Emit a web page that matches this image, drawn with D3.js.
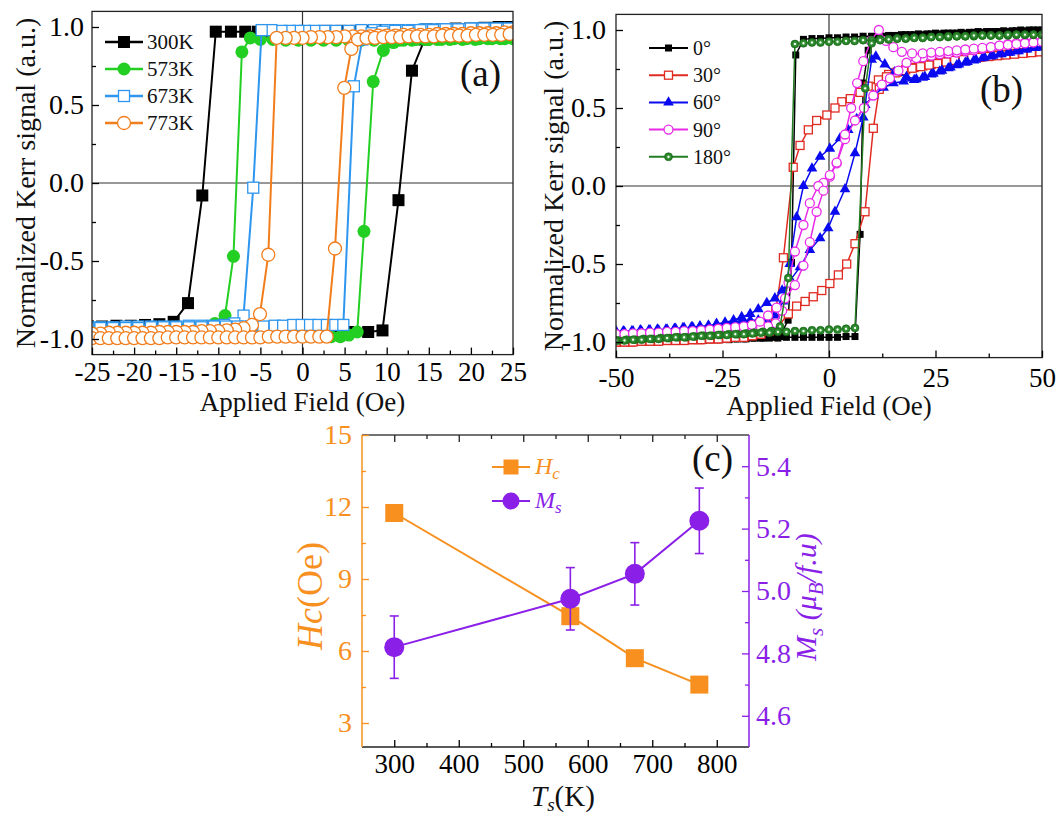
<!DOCTYPE html>
<html><head><meta charset="utf-8">
<script src="https://cdn.jsdelivr.net/npm/d3@7"></script>
<style>
body{margin:0;background:#fff}
svg{display:block}
text{font-family:"Liberation Serif","Times New Roman",serif}
</style>
</head><body>
<svg id="chart" width="1059" height="817"></svg>
<script>
// ================= DATA =================
// ---- panel (a): Kerr loops vs annealing temperature ----
const fieldTicksA = [-25,-20,-15,-10,-5,0,5,10,15,20,25];
const fieldMinorA = [-22.5,-17.5,-12.5,-7.5,-2.5,2.5,7.5,12.5,17.5,22.5];
const kerrTicks = [-1,-0.5,0,0.5,1];
const kerrMinor = [-0.75,-0.25,0.25,0.75];
const legendA = ["300K","573K","673K","773K"];

const k300Down = [[25,1.0],[23.3,1.0],[21.6,0.995],[19.9,0.99],[18.2,0.99],[16.5,0.985],[14.8,0.985],[13.1,0.98],[11.4,0.98],[9.7,0.98],[8.0,0.975],[6.3,0.975],[4.6,0.975],[2.9,0.975],[1.2,0.97],[-0.5,0.97],[-2.2,0.97],[-3.9,0.97],[-5.3,0.97],[-6.8,0.97],[-8.5,0.97],[-10.3,0.97],[-11.9,-0.08],[-13.6,-0.77],[-15.3,-0.89],[-17.0,-0.905],[-18.7,-0.91],[-20.4,-0.915],[-22.1,-0.915],[-23.8,-0.92],[-25.5,-0.92]];
const k300Up = [[-25.5,-0.92],[-23.8,-0.925],[-22.1,-0.93],[-20.4,-0.93],[-18.7,-0.935],[-17.0,-0.935],[-15.3,-0.94],[-13.6,-0.94],[-11.9,-0.94],[-10.2,-0.945],[-8.5,-0.945],[-6.8,-0.945],[-5.1,-0.95],[-3.4,-0.95],[-1.7,-0.95],[0,-0.95],[1.7,-0.955],[3.4,-0.955],[5.4,-0.955],[7.8,-0.955],[9.5,-0.945],[11.4,-0.11],[13.0,0.72],[14.5,0.92],[16.2,0.97],[17.9,0.98],[19.6,0.985],[21.3,0.99],[23.0,0.995],[24.7,1.0]];

const k573Down = [[25,0.925],[23.5,0.925],[22,0.925],[20.5,0.92],[19,0.92],[17.5,0.92],[16,0.92],[14.5,0.92],[13,0.915],[11.5,0.915],[10,0.915],[8.5,0.915],[7,0.915],[5.5,0.915],[4,0.915],[2.5,0.915],[1,0.915],[-0.5,0.915],[-2,0.915],[-3.5,0.92],[-5,0.92],[-6.2,0.93],[-7.2,0.84],[-8.2,-0.47],[-9.2,-0.85],[-10.4,-0.9],[-11.6,-0.92],[-13,-0.93],[-14.5,-0.935],[-16,-0.94],[-17.5,-0.94],[-19,-0.945],[-20.5,-0.945],[-22,-0.95],[-23.5,-0.95],[-25,-0.95]];
const k573Up = [[-25,-0.97],[-23.5,-0.97],[-22,-0.97],[-20.5,-0.97],[-19,-0.97],[-17.5,-0.97],[-16,-0.97],[-14.5,-0.97],[-13,-0.97],[-11.5,-0.97],[-10,-0.97],[-8.5,-0.97],[-7,-0.975],[-5.5,-0.975],[-4,-0.975],[-2.5,-0.975],[-1,-0.98],[0.5,-0.98],[2,-0.98],[3.4,-0.985],[4.5,-0.985],[5.5,-0.975],[6.5,-0.955],[7.3,-0.31],[8.4,0.65],[9.6,0.85],[10.8,0.9],[12,0.915],[13.5,0.92],[15,0.92],[16.5,0.92],[18,0.925],[19.5,0.925],[21,0.925],[22.5,0.925],[24,0.925],[25.5,0.925]];

const k673Down = [[25,0.99],[23.5,0.99],[22,0.99],[20.5,0.99],[19,0.985],[17.5,0.985],[16,0.985],[14.5,0.985],[13,0.98],[11.5,0.98],[10,0.98],[8.5,0.98],[7,0.98],[5.5,0.975],[4,0.975],[2.6,0.975],[1.4,0.975],[0.3,0.975],[-0.5,0.975],[-1.5,0.975],[-2.5,0.975],[-3.7,0.98],[-4.85,0.98],[-5.85,-0.03],[-7.0,-0.85],[-8.1,-0.9],[-9.3,-0.91],[-10.6,-0.915],[-12,-0.915],[-13.5,-0.915],[-15,-0.92],[-16.5,-0.92],[-18,-0.92],[-19.5,-0.92],[-21,-0.92],[-22.5,-0.925],[-24,-0.925],[-25.5,-0.925]];
const k673Up = [[-25.5,-0.93],[-24,-0.93],[-22.5,-0.93],[-21,-0.93],[-19.5,-0.93],[-18,-0.925],[-16.5,-0.925],[-15,-0.925],[-13.5,-0.925],[-12,-0.925],[-10.5,-0.92],[-9.1,-0.92],[-7.7,-0.92],[-6.1,-0.92],[-4.65,-0.92],[-3.3,-0.915],[-2.3,-0.915],[-1.1,-0.91],[-0.1,-0.91],[0.9,-0.91],[1.9,-0.91],[2.9,-0.91],[3.9,-0.91],[4.85,-0.91],[6.1,0.62],[7.1,0.92],[8.2,0.96],[9.5,0.97],[11,0.975],[12.5,0.975],[14,0.98],[15.5,0.98],[17,0.985],[18.5,0.985],[20,0.99],[21.5,0.99],[23,0.99],[24.5,0.99]];

const k773Down = [[25,0.965],[24,0.965],[23,0.96],[22,0.96],[21,0.96],[20,0.96],[19,0.955],[18,0.955],[17,0.955],[16,0.955],[15,0.95],[14,0.95],[13,0.95],[12,0.95],[11,0.945],[10,0.945],[9,0.945],[8,0.94],[7,0.94],[6,0.94],[5,0.94],[4,0.935],[3,0.935],[2,0.935],[1,0.935],[0,0.93],[-1,0.93],[-2,0.93],[-3.07,0.93],[-4.06,-0.46],[-5.05,-0.84],[-6,-0.91],[-7,-0.93],[-8,-0.94],[-9,-0.945],[-10,-0.95],[-11,-0.95],[-12,-0.95],[-13,-0.955],[-14,-0.955],[-15,-0.955],[-16,-0.955],[-17,-0.955],[-18,-0.96],[-19,-0.96],[-20,-0.96],[-21,-0.96],[-22,-0.96],[-23,-0.96],[-24,-0.965],[-25,-0.965]];
const k773Up = [[-25,-0.995],[-24,-0.995],[-23,-0.995],[-22,-0.995],[-21,-0.995],[-20,-0.995],[-19,-0.995],[-18,-0.995],[-17,-0.995],[-16,-0.99],[-15,-0.99],[-14,-0.99],[-13,-0.99],[-12,-0.99],[-11,-0.99],[-10,-0.99],[-9,-0.99],[-8,-0.99],[-7,-0.99],[-6,-0.99],[-5,-0.99],[-4,-0.985],[-3,-0.985],[-2,-0.985],[-1,-0.985],[0,-0.985],[1,-0.985],[2,-0.985],[2.87,-0.985],[3.86,-0.42],[4.96,0.61],[5.8,0.86],[6.6,0.92],[7.6,0.93],[8.6,0.93],[9.6,0.935],[10.6,0.935],[11.6,0.935],[12.6,0.94],[13.6,0.94],[14.6,0.94],[15.6,0.94],[16.6,0.945],[17.6,0.945],[18.6,0.945],[19.6,0.945],[20.6,0.95],[21.6,0.95],[22.6,0.95],[23.6,0.95],[24.6,0.955]];

// ---- panel (b): Kerr loops vs in-plane angle ----
const fieldTicksB = [-50,-25,0,25,50];
const fieldMinorB = [-37.5,-12.5,12.5,37.5];
const legendB = ["0°","30°","60°","90°","180°"];

const b0Down = [[50,1.0],[48,1.0],[46,0.995],[44,0.995],[42,0.99],[40,0.99],[38,0.99],[36,0.985],[34,0.985],[32,0.98],[30,0.98],[28,0.98],[26,0.975],[24,0.975],[22,0.97],[20,0.97],[18,0.97],[16,0.965],[14,0.965],[12,0.96],[10,0.96],[8,0.96],[6,0.955],[4,0.955],[2,0.95],[0,0.95],[-2,0.945],[-4,0.945],[-6,0.94],[-7.8,0.84],[-8.8,-0.49],[-9.6,-0.86],[-11.5,-0.965],[-13.5,-0.97],[-15.5,-0.975],[-17.5,-0.975],[-19.5,-0.98],[-21.5,-0.98],[-23.5,-0.985],[-25.5,-0.985],[-27.5,-0.985],[-29.5,-0.99],[-31.5,-0.99],[-33.5,-0.99],[-35.5,-0.995],[-37.5,-0.995],[-39.5,-0.995],[-41.5,-1.0],[-43.5,-1.0],[-45.5,-1.0],[-47.5,-1.0],[-49.5,-1.0]];
const b0Up = [[-50,-1.0],[-48,-1.0],[-46,-1.0],[-44,-1.0],[-42,-0.995],[-40,-0.995],[-38,-0.995],[-36,-0.99],[-34,-0.99],[-32,-0.99],[-30,-0.985],[-28,-0.985],[-26,-0.985],[-24,-0.98],[-22,-0.98],[-20,-0.98],[-18,-0.975],[-16,-0.975],[-14,-0.975],[-12,-0.975],[-10,-0.97],[-8,-0.97],[-6,-0.97],[-4,-0.97],[-2,-0.97],[0,-0.97],[2,-0.97],[4,-0.965],[6.1,-0.965],[7.3,-0.31],[8.05,0.66],[9.2,0.87],[11,0.95],[13,0.96],[15,0.965],[17,0.97],[19,0.97],[21,0.975],[23,0.975],[25,0.98],[27,0.98],[29,0.98],[31,0.985],[33,0.985],[35,0.99],[37,0.99],[39,0.99],[41,0.995],[43,0.995],[45,1.0],[47,1.0],[49,1.0]];

const b30Down = [[50,0.865],[48,0.86],[46,0.855],[44,0.85],[42,0.845],[40,0.84],[38,0.835],[36,0.83],[34,0.82],[32,0.815],[30,0.81],[28,0.8],[26,0.79],[24,0.78],[22,0.77],[20,0.76],[18,0.745],[16,0.73],[14,0.715],[11.6,0.68],[9.2,0.64],[7.3,0.6],[5,0.56],[3,0.54],[1.4,0.5],[-0.5,0.455],[-2.9,0.42],[-4.85,0.36],[-6.8,0.26],[-8.4,0.12],[-10.7,-0.46],[-12.5,-0.8],[-14.5,-0.92],[-16.5,-0.95],[-18.5,-0.96],[-20.5,-0.97],[-22.5,-0.97],[-24.5,-0.975],[-26.5,-0.98],[-28.5,-0.98],[-30.5,-0.985],[-32.5,-0.985],[-34.5,-0.99],[-36.5,-0.99],[-38.5,-0.99],[-40.5,-0.995],[-42.5,-0.995],[-44.5,-0.995],[-46.5,-1.0],[-48.5,-1.0],[-50,-1.0]];
const b30Up = [[-50,-1.0],[-48,-1.0],[-46,-1.0],[-44,-0.995],[-42,-0.995],[-40,-0.995],[-38,-0.99],[-36,-0.99],[-34,-0.99],[-32,-0.985],[-30,-0.985],[-28,-0.98],[-26,-0.98],[-24,-0.975],[-22,-0.97],[-20,-0.97],[-18,-0.96],[-16,-0.95],[-14,-0.93],[-12,-0.9],[-9.55,-0.82],[-7.6,-0.77],[-5.6,-0.74],[-3.7,-0.71],[-1.7,-0.67],[0.2,-0.625],[2.2,-0.57],[4.15,-0.5],[6.1,-0.37],[8.45,-0.165],[10.4,0.37],[11.8,0.62],[13.5,0.7],[15.5,0.725],[17.5,0.74],[19.5,0.755],[21.5,0.765],[23.5,0.775],[25.5,0.785],[27.5,0.795],[29.5,0.805],[31.5,0.81],[33.5,0.82],[35.5,0.825],[37.5,0.83],[39.5,0.835],[41.5,0.84],[43.5,0.845],[45.5,0.85],[47.5,0.855],[49.5,0.86]];

const b60Down = [[50,0.89],[48,0.885],[46,0.875],[44,0.865],[42,0.855],[40,0.845],[38,0.83],[36,0.82],[34,0.805],[32,0.79],[30,0.775],[28,0.755],[26,0.735],[24,0.715],[22,0.695],[20,0.68],[17.5,0.67],[15.1,0.66],[12.8,0.63],[10.4,0.58],[8.5,0.52],[6.5,0.43],[4.5,0.36],[2.6,0.306],[0.2,0.24],[-2.1,0.188],[-4,0.113],[-6,0.0],[-7.6,-0.2],[-9.2,-0.5],[-10.8,-0.74],[-12.7,-0.83],[-14.6,-0.86],[-16.6,-0.86],[-18.5,-0.86],[-20.5,-0.865],[-22.4,-0.87],[-24.4,-0.88],[-26.4,-0.885],[-28.3,-0.895],[-30.3,-0.9],[-32.3,-0.905],[-34.3,-0.91],[-36.3,-0.915],[-38.3,-0.92],[-40.3,-0.92],[-42.3,-0.925],[-44.3,-0.925],[-46.3,-0.93],[-48.3,-0.93],[-50,-0.93]];
const b60Up = [[-50,-0.935],[-48,-0.935],[-46,-0.93],[-44,-0.93],[-42,-0.925],[-40,-0.925],[-38,-0.92],[-36,-0.915],[-34,-0.91],[-32,-0.905],[-30.3,-0.9],[-28.3,-0.895],[-26.4,-0.885],[-24.4,-0.875],[-22.4,-0.86],[-20.5,-0.84],[-18.5,-0.82],[-16.6,-0.79],[-14.6,-0.75],[-12.7,-0.72],[-11,-0.67],[-9,-0.6],[-6.8,-0.52],[-4.5,-0.41],[-2.1,-0.335],[-0.2,-0.27],[1.4,-0.165],[3.75,-0.02],[6.1,0.21],[8.05,0.44],[10,0.81],[11,0.83],[13.1,0.78],[15.4,0.73],[18.2,0.7],[20.5,0.685],[22.5,0.7],[24.5,0.72],[26.5,0.74],[28.5,0.76],[30.5,0.78],[32.5,0.795],[34.5,0.81],[36.5,0.825],[38.5,0.835],[40.5,0.845],[42.5,0.855],[44.5,0.865],[46.5,0.875],[48.5,0.885],[50,0.89]];

const b90Down = [[50,0.93],[48,0.925],[46,0.92],[44,0.915],[42,0.91],[40,0.9],[38,0.89],[36,0.88],[34,0.87],[32,0.865],[30,0.855],[28,0.85],[26,0.845],[24,0.835],[22,0.825],[20.5,0.82],[18.2,0.79],[16.3,0.74],[14.3,0.69],[12.4,0.65],[10.4,0.58],[8.2,0.5],[6.1,0.42],[3.75,0.3],[1.8,0.145],[0.2,0.06],[-1.3,0.02],[-2.5,0.0],[-4.5,-0.11],[-6,-0.25],[-8,-0.42],[-9.5,-0.62],[-11,-0.8],[-12.5,-0.88],[-14.3,-0.9],[-16.2,-0.905],[-18,-0.91],[-20,-0.915],[-22,-0.92],[-24,-0.925],[-26,-0.93],[-28,-0.93],[-30,-0.935],[-32,-0.935],[-34,-0.94],[-36,-0.94],[-38,-0.94],[-40,-0.945],[-42,-0.945],[-44,-0.945],[-46,-0.95],[-48,-0.95],[-50,-0.95]];
const b90Up = [[-50,-0.95],[-48,-0.95],[-46,-0.945],[-44,-0.945],[-42,-0.94],[-40,-0.94],[-38,-0.935],[-36,-0.935],[-34,-0.93],[-32,-0.93],[-30,-0.925],[-28,-0.92],[-26,-0.915],[-24,-0.91],[-22,-0.905],[-20,-0.9],[-18.1,-0.89],[-16.2,-0.87],[-14.3,-0.83],[-12.3,-0.78],[-10.3,-0.72],[-8,-0.635],[-6,-0.51],[-4.5,-0.36],[-2.9,-0.165],[-1.3,-0.03],[0.2,0.07],[1.8,0.15],[3.75,0.33],[5.2,0.5],[6.6,0.66],[8.05,0.8],[9.8,0.93],[11.7,1.0],[13.4,0.93],[15.1,0.89],[17.1,0.86],[19.5,0.85],[22,0.85],[24,0.855],[26,0.86],[28,0.865],[30,0.87],[32,0.875],[34,0.88],[36,0.885],[38,0.89],[40,0.9],[42,0.905],[44,0.91],[46,0.915],[48,0.92],[50,0.925]];

const b180Down = [[50,0.97],[48,0.97],[46,0.97],[44,0.97],[42,0.965],[40,0.965],[38,0.965],[36,0.965],[34,0.96],[32,0.96],[30,0.96],[28,0.955],[26,0.955],[24,0.955],[22,0.95],[20,0.95],[18,0.945],[16,0.945],[14,0.94],[12,0.94],[10,0.935],[8,0.935],[6,0.93],[4,0.93],[2,0.925],[0,0.925],[-2,0.92],[-4,0.92],[-6,0.915],[-8,0.91],[-9.55,-0.59],[-11.5,-0.9],[-13.5,-0.93],[-15.5,-0.935],[-17.5,-0.94],[-19.5,-0.945],[-21.5,-0.95],[-23.5,-0.95],[-25.5,-0.955],[-27.5,-0.96],[-29.5,-0.96],[-31.5,-0.965],[-33.5,-0.97],[-35.5,-0.97],[-37.5,-0.975],[-39.5,-0.975],[-41.5,-0.98],[-43.5,-0.98],[-45.5,-0.985],[-47.5,-0.985],[-49.5,-0.99]];
const b180Up = [[-50,-0.99],[-48,-0.99],[-46,-0.985],[-44,-0.985],[-42,-0.98],[-40,-0.98],[-38,-0.975],[-36,-0.97],[-34,-0.97],[-32,-0.965],[-30,-0.96],[-28,-0.96],[-26,-0.955],[-24,-0.955],[-22,-0.95],[-20,-0.95],[-18,-0.945],[-16,-0.94],[-14,-0.94],[-12,-0.935],[-10,-0.935],[-8,-0.93],[-6,-0.93],[-4,-0.925],[-2,-0.925],[0,-0.92],[2,-0.92],[4,-0.915],[6.1,-0.91],[8.5,0.626],[10,0.915],[12,0.935],[14,0.94],[16,0.945],[18,0.945],[20,0.95],[22,0.95],[24,0.955],[26,0.955],[28,0.96],[30,0.96],[32,0.96],[34,0.965],[36,0.965],[38,0.965],[40,0.965],[42,0.97],[44,0.97],[46,0.97],[48,0.97],[50,0.97]];

// ---- panel (c): coercivity and saturation magnetisation vs Ts ----
const tempK = [300,573,673,773];
const coercivity = [11.75,7.45,5.7,4.6];
const saturation = [4.82,4.975,5.055,5.225];
const saturationErr = [0.1,0.1,0.1,0.105];
const tempTicks = [300,400,500,600,700,800];
const tempMinor = [350,450,550,650,750];
const hcTicks = [3,6,9,12,15];
const hcMinor = [4.5,7.5,10.5,13.5];
const msTicks = [4.6,4.8,5.0,5.2,5.4];
const msMinor = [4.7,4.9,5.1,5.3];

// ================= DRAWING =================
const FONT = '"Liberation Serif","Times New Roman",serif';
const svg = d3.select('#chart');
const defs = svg.append('defs');
const grad = defs.append('radialGradient').attr('id','ballGrad').attr('cx','50%').attr('cy','50%').attr('r','50%');
grad.append('stop').attr('offset','0%').attr('stop-color','#ffffff');
grad.append('stop').attr('offset','18%').attr('stop-color','#f2faf2');
grad.append('stop').attr('offset','38%').attr('stop-color','#3c9a3c');
grad.append('stop').attr('offset','100%').attr('stop-color','#1b6e1b');

function marker(g, type, color, s) {
  if (type === 'square') g.append('rect').attr('x',-s/2).attr('y',-s/2).attr('width',s).attr('height',s).attr('fill',color);
  else if (type === 'squareOpen') g.append('rect').attr('x',-s/2).attr('y',-s/2).attr('width',s).attr('height',s).attr('fill','#fff').attr('stroke',color).attr('stroke-width',1.3);
  else if (type === 'circle') g.append('circle').attr('r',s/2).attr('fill',color);
  else if (type === 'circleOpen') g.append('circle').attr('r',s/2).attr('fill','#fff').attr('stroke',color).attr('stroke-width',1.3);
  else if (type === 'triangle') g.append('path').attr('d', d3.symbol(d3.symbolTriangle, s*s*0.5)()).attr('fill',color);
  else if (type === 'ball') g.append('circle').attr('r',s/2).attr('fill','url(#ballGrad)').attr('stroke','#1b6e1b').attr('stroke-width',0.6);
}

function styleAxis(sel, color, size) {
  sel.select('.domain').remove();
  sel.attr('font-family', null).attr('font-size', null);
  sel.selectAll('.tick line').attr('stroke', color).attr('stroke-width', 1.3);
  sel.selectAll('.tick text').attr('fill', color).attr('font-size', size).attr('font-family', FONT);
}

function hysteresis(cfg) {
  const g = svg.append('g');
  const x = d3.scaleLinear().domain(cfg.xDomain).range([cfg.left, cfg.right]);
  const y = d3.scaleLinear().domain([-1.1, 1.1]).range([cfg.bottom, cfg.top]);
  const clipId = cfg.id + 'Clip';
  defs.append('clipPath').attr('id', clipId).append('rect')
    .attr('x', cfg.left).attr('y', cfg.top).attr('width', cfg.right - cfg.left).attr('height', cfg.bottom - cfg.top);

  g.append('line').attr('x1', x(0)).attr('x2', x(0)).attr('y1', cfg.top).attr('y2', cfg.bottom).attr('stroke', '#333').attr('stroke-width', 1.2);
  g.append('line').attr('x1', cfg.left).attr('x2', cfg.right).attr('y1', y(0)).attr('y2', y(0)).attr('stroke', '#333').attr('stroke-width', 1.2);

  const plot = g.append('g').attr('clip-path', `url(#${clipId})`);
  const line = d3.line().x(d => x(d[0])).y(d => y(d[1]));
  cfg.series.forEach(s => {
    const pts = s.down.concat(s.up);
    plot.append('path').attr('d', line(pts)).attr('fill', 'none').attr('stroke', s.color).attr('stroke-width', cfg.lw);
    pts.forEach(d => marker(plot.append('g').attr('transform', `translate(${x(d[0])},${y(d[1])})`), s.marker, s.color, s.size));
  });

  g.append('rect').attr('x', cfg.left).attr('y', cfg.top).attr('width', cfg.right - cfg.left).attr('height', cfg.bottom - cfg.top)
    .attr('fill', 'none').attr('stroke', '#222').attr('stroke-width', 1.3);

  const xa = g.append('g').attr('transform', `translate(0,${cfg.bottom})`)
    .call(d3.axisBottom(x).tickValues(cfg.xTicks).tickFormat(d => String(d)).tickSize(-7).tickPadding(cfg.xPad));
  styleAxis(xa, '#000', 27);
  const xm = g.append('g').attr('transform', `translate(0,${cfg.bottom})`)
    .call(d3.axisBottom(x).tickValues(cfg.xMinor).tickFormat(() => '').tickSize(-4));
  styleAxis(xm, '#000', 27);
  const ya = g.append('g').attr('transform', `translate(${cfg.left},0)`)
    .call(d3.axisLeft(y).tickValues(kerrTicks).tickFormat(d => d.toFixed(1)).tickSize(-7).tickPadding(cfg.yPad));
  styleAxis(ya, '#000', 28);
  const ym = g.append('g').attr('transform', `translate(${cfg.left},0)`)
    .call(d3.axisLeft(y).tickValues(kerrMinor).tickFormat(() => '').tickSize(-4));
  styleAxis(ym, '#000', 28);

  g.append('text').attr('x', (cfg.left + cfg.right) / 2).attr('y', cfg.xTitleY).attr('text-anchor', 'middle')
    .attr('font-size', 27).attr('fill', '#111').text('Applied Field (Oe)');
  g.append('text').attr('transform', `translate(${cfg.yTitleX},${(cfg.top + cfg.bottom) / 2}) rotate(-90)`)
    .attr('text-anchor', 'middle').attr('font-size', 28).attr('fill', '#111').text('Normalized Kerr signal (a.u.)');

  // legend
  cfg.series.forEach((s, i) => {
    const ly = cfg.legend.y0 + i * cfg.legend.dy;
    g.append('line').attr('x1', cfg.legend.x0).attr('x2', cfg.legend.x1).attr('y1', ly).attr('y2', ly)
      .attr('stroke', s.color).attr('stroke-width', cfg.lw + 0.5);
    marker(g.append('g').attr('transform', `translate(${(cfg.legend.x0 + cfg.legend.x1) / 2},${ly})`), s.marker, s.color, s.size);
    g.append('text').attr('x', cfg.legend.tx).attr('y', ly + 7).attr('font-size', cfg.legend.fs).attr('fill', '#111').text(cfg.labels[i]);
  });
  g.append('text').attr('x', cfg.tagX).attr('y', cfg.tagY).attr('font-size', 37).attr('fill', '#111').text(cfg.tag);
}

hysteresis({
  id: 'a', left: 92, right: 513, top: 11.4, bottom: 354.6, xDomain: [-25, 25],
  xTicks: fieldTicksA, xMinor: fieldMinorA, xPad: 7, yPad: 8, lw: 2,
  xTitleY: 411, yTitleX: 35,
  series: [
    {down: k300Down, up: k300Up, color: '#000000', marker: 'square', size: 12},
    {down: k573Down, up: k573Up, color: '#22cf22', marker: 'circle', size: 13},
    {down: k673Down, up: k673Up, color: '#2e96ee', marker: 'squareOpen', size: 11},
    {down: k773Down, up: k773Up, color: '#f27d1c', marker: 'circleOpen', size: 13}
  ],
  labels: legendA,
  legend: {x0: 105, x1: 143, y0: 42, dy: 27, tx: 147, fs: 21},
  tag: '(a)', tagX: 460, tagY: 86
});

hysteresis({
  id: 'b', left: 616, right: 1042, top: 14.4, bottom: 357.6, xDomain: [-50, 50],
  xTicks: fieldTicksB, xMinor: fieldMinorB, xPad: 10, yPad: 10, lw: 1.5,
  xTitleY: 415, yTitleX: 563,
  series: [
    {down: b0Down, up: b0Up, color: '#000000', marker: 'square', size: 7},
    {down: b30Down, up: b30Up, color: '#e02a22', marker: 'squareOpen', size: 8},
    {down: b60Down, up: b60Up, color: '#0a0af0', marker: 'triangle', size: 10},
    {down: b90Down, up: b90Up, color: '#e82ae8', marker: 'circleOpen', size: 9},
    {down: b180Down, up: b180Up, color: '#237d23', marker: 'ball', size: 8}
  ],
  labels: legendB,
  legend: {x0: 649, x1: 688, y0: 48, dy: 27.2, tx: 693, fs: 20},
  tag: '(b)', tagX: 980, tagY: 102
});

// ---- panel (c) ----
(function () {
  const ORANGE = '#f7901e', PURPLE = '#8a1fe8';
  const L = 362, R = 749, T = 435, B = 747;
  const g = svg.append('g');
  const x = d3.scaleLinear().domain([250, 850]).range([L, R]);
  const yH = d3.scaleLinear().domain([2, 15]).range([B, T]);
  const yM = d3.scaleLinear().domain([4.5, 5.5]).range([B, T]);

  // frame
  g.append('line').attr('x1', L).attr('x2', R).attr('y1', T).attr('y2', T).attr('stroke', '#444').attr('stroke-width', 1.3);
  g.append('line').attr('x1', L).attr('x2', R).attr('y1', B).attr('y2', B).attr('stroke', '#222').attr('stroke-width', 1.5);
  g.append('line').attr('x1', L).attr('x2', L).attr('y1', T).attr('y2', B).attr('stroke', ORANGE).attr('stroke-width', 1.5);
  g.append('line').attr('x1', R).attr('x2', R).attr('y1', T).attr('y2', B).attr('stroke', PURPLE).attr('stroke-width', 1.5);

  // axes
  styleAxis(g.append('g').attr('transform', `translate(0,${B})`)
    .call(d3.axisBottom(x).tickValues(tempTicks).tickFormat(d => String(d)).tickSize(-7).tickPadding(7)), '#000', 27);
  styleAxis(g.append('g').attr('transform', `translate(0,${B})`)
    .call(d3.axisBottom(x).tickValues(tempMinor).tickFormat(() => '').tickSize(-4)), '#000', 27);
  styleAxis(g.append('g').attr('transform', `translate(0,${T})`)
    .call(d3.axisTop(x).tickValues(tempTicks).tickFormat(() => '').tickSize(-7)), '#222', 28);
  styleAxis(g.append('g').attr('transform', `translate(0,${T})`)
    .call(d3.axisTop(x).tickValues(tempMinor).tickFormat(() => '').tickSize(-4)), '#222', 28);
  styleAxis(g.append('g').attr('transform', `translate(${L},0)`)
    .call(d3.axisLeft(yH).tickValues(hcTicks).tickFormat(d => String(d)).tickSize(-7).tickPadding(10)), ORANGE, 28);
  styleAxis(g.append('g').attr('transform', `translate(${L},0)`)
    .call(d3.axisLeft(yH).tickValues(hcMinor).tickFormat(() => '').tickSize(-4)), ORANGE, 28);
  styleAxis(g.append('g').attr('transform', `translate(${R},0)`)
    .call(d3.axisRight(yM).tickValues(msTicks).tickFormat(d => d.toFixed(1)).tickSize(-7).tickPadding(7)), PURPLE, 28);
  styleAxis(g.append('g').attr('transform', `translate(${R},0)`)
    .call(d3.axisRight(yM).tickValues(msMinor).tickFormat(() => '').tickSize(-4)), PURPLE, 28);

  // Hc series
  const hcPts = tempK.map((t, i) => [t, coercivity[i]]);
  g.append('path').attr('d', d3.line().x(d => x(d[0])).y(d => yH(d[1]))(hcPts))
    .attr('fill', 'none').attr('stroke', ORANGE).attr('stroke-width', 2);
  hcPts.forEach(d => marker(g.append('g').attr('transform', `translate(${x(d[0])},${yH(d[1])})`), 'square', ORANGE, 18));

  // Ms series
  const msPts = tempK.map((t, i) => [t, saturation[i], saturationErr[i]]);
  g.append('path').attr('d', d3.line().x(d => x(d[0])).y(d => yM(d[1]))(msPts))
    .attr('fill', 'none').attr('stroke', PURPLE).attr('stroke-width', 2);
  msPts.forEach(d => {
    const cx = x(d[0]), y1 = yM(d[1] - d[2]), y2 = yM(d[1] + d[2]);
    g.append('line').attr('x1', cx).attr('x2', cx).attr('y1', y1).attr('y2', y2).attr('stroke', PURPLE).attr('stroke-width', 1.6);
    g.append('line').attr('x1', cx - 4.5).attr('x2', cx + 4.5).attr('y1', y1).attr('y2', y1).attr('stroke', PURPLE).attr('stroke-width', 1.6);
    g.append('line').attr('x1', cx - 4.5).attr('x2', cx + 4.5).attr('y1', y2).attr('y2', y2).attr('stroke', PURPLE).attr('stroke-width', 1.6);
  });
  msPts.forEach(d => marker(g.append('g').attr('transform', `translate(${x(d[0])},${yM(d[1])})`), 'circle', PURPLE, 20));

  // legend
  g.append('line').attr('x1', 492).attr('x2', 530).attr('y1', 467).attr('y2', 467).attr('stroke', ORANGE).attr('stroke-width', 2);
  marker(g.append('g').attr('transform', 'translate(511,467)'), 'square', ORANGE, 15);
  const t1 = g.append('text').attr('x', 535).attr('y', 474).attr('font-size', 24).attr('fill', ORANGE).attr('font-style', 'italic');
  t1.append('tspan').text('H');
  t1.append('tspan').attr('font-size', 17).attr('dy', 5).text('c');
  g.append('line').attr('x1', 492).attr('x2', 530).attr('y1', 501).attr('y2', 501).attr('stroke', PURPLE).attr('stroke-width', 2);
  marker(g.append('g').attr('transform', 'translate(511,501)'), 'circle', PURPLE, 17);
  const t2 = g.append('text').attr('x', 535).attr('y', 508).attr('font-size', 24).attr('fill', PURPLE).attr('font-style', 'italic');
  t2.append('tspan').text('M');
  t2.append('tspan').attr('font-size', 17).attr('dy', 5).text('s');

  g.append('text').attr('x', 692).attr('y', 471).attr('font-size', 37).attr('fill', '#111').text('(c)');

  // axis titles
  const tl = g.append('text').attr('transform', 'translate(322,596) rotate(-90)').attr('text-anchor', 'middle')
    .attr('font-size', 36).attr('fill', ORANGE);
  tl.append('tspan').attr('font-style', 'italic').text('Hc');
  tl.append('tspan').text('(Oe)');

  const tb = g.append('text').attr('x', 531).attr('y', 806).attr('font-size', 29).attr('fill', '#111');
  tb.append('tspan').attr('font-style', 'italic').text('T');
  tb.append('tspan').attr('font-style', 'italic').attr('font-size', 19).attr('dy', 5).text('s');
  tb.append('tspan').attr('dy', -5).text('(K)');

  const tr = g.append('text').attr('transform', 'translate(816,597) rotate(-90)').attr('text-anchor', 'middle')
    .attr('font-size', 30).attr('fill', PURPLE).attr('font-style', 'italic');
  tr.append('tspan').text('M');
  tr.append('tspan').attr('font-size', 21).attr('dy', 7).text('s');
  tr.append('tspan').attr('dy', -7).text(' (μ');
  tr.append('tspan').attr('font-size', 21).attr('dy', 7).text('B');
  tr.append('tspan').attr('dy', -7).text('/f.u)');
})();
</script>
</body></html>
